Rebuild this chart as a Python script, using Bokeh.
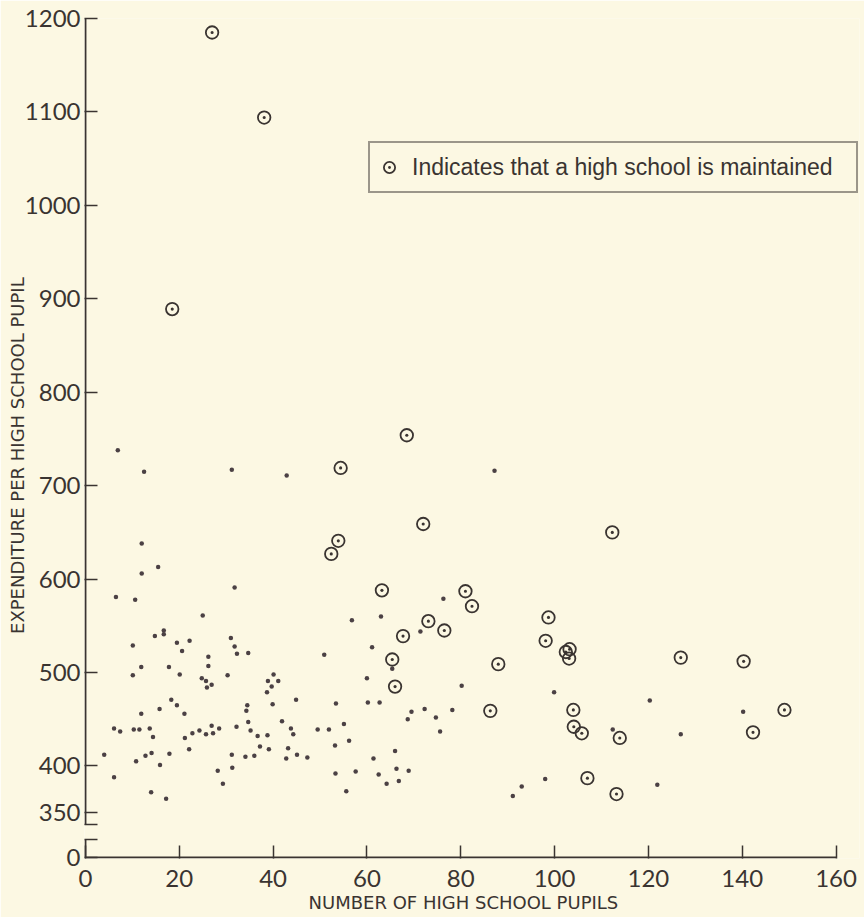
from bokeh.plotting import figure
from bokeh.models import FixedTicker, Legend, LegendItem, Range1d
from bokeh.embed import file_html
from bokeh.resources import INLINE

# ---- data: districts without a high school (plain dots) ----
dot_x = [6.9, 12.5, 31.2, 42.9, 12.0, 15.5, 12.0, 31.8, 6.5, 10.6, 25.0,
         10.1, 14.8, 16.7, 16.7, 19.5, 22.2, 20.6, 11.9, 10.1, 17.8, 20.1,
         26.2, 26.2, 24.8, 25.7, 26.9, 25.9, 31.0, 31.8, 32.3, 34.7, 30.3,
         40.1, 38.9, 41.1, 39.7, 38.7, 39.9, 44.9, 18.3, 19.5, 15.8, 21.1,
         11.9, 34.5, 34.3, 34.7, 32.2, 35.2, 36.7, 38.8, 41.9, 43.8, 44.3,
         43.2, 45.1, 47.3, 42.8, 39.1, 37.2, 36.0, 34.1, 31.2, 31.3, 28.2,
         29.3, 6.1, 7.4, 10.3, 11.5, 13.7, 14.4, 4.0, 6.1, 10.8, 12.8, 14.1,
         15.9, 17.9, 14.0, 17.2, 21.2, 22.1, 22.8, 24.3, 26.9, 25.7, 27.2,
         28.5, 49.5,
         56.8, 63.0, 50.9, 61.1, 71.4, 65.4, 60.0, 80.2, 53.4, 60.2, 62.7,
         69.5, 72.3, 68.7, 74.7, 78.2, 75.6, 55.1, 51.9, 53.2, 56.2, 66.0,
         61.4, 53.3, 57.6, 62.5, 66.3, 68.9, 64.2, 66.8, 55.6, 93.0, 91.1,
         87.2, 76.3,
         99.9, 120.3, 140.2, 112.4, 126.9, 98.0, 121.9]
dot_y = [738, 715, 717, 711, 638, 613, 606, 591, 581, 578, 561,
         529, 539, 545, 541, 532, 534, 523, 506, 497, 506, 498,
         517, 507, 494, 491, 487, 484, 537, 528, 520, 521, 497,
         498, 491, 491, 485, 479, 466, 471, 471, 465, 461, 456,
         456, 465, 459, 447, 442, 438, 432, 433, 448, 440, 434,
         419, 412, 409, 408, 418, 421, 411, 410, 412, 398, 395,
         381, 440, 437, 439, 439, 440, 431, 412, 388, 405, 411, 414,
         401, 413, 372, 365, 430, 418, 435, 438, 443, 434, 435,
         440, 439,
         556, 560, 519, 527, 544, 504, 494, 486, 467, 468, 468,
         458, 461, 450, 452, 460, 437, 445, 439, 422, 427, 416,
         408, 392, 394, 391, 397, 395, 381, 384, 373, 378, 368,
         716, 579,
         479, 470, 458, 439, 434, 386, 380]

# ---- data: districts that maintain a high school (circled dots) ----
hs_x = [27.0, 38.1, 18.5, 68.5, 54.4, 72.0, 53.9, 52.4, 63.2, 81.0, 82.4,
        73.1, 76.5, 67.7, 65.4, 66.0, 88.0, 86.3, 98.7, 98.1, 102.4, 103.2,
        103.1, 126.9, 140.3, 104.0, 104.1, 105.8, 113.9, 142.3, 107.0, 113.2,
        112.3, 149.0]
hs_y = [1185, 1094, 889, 754, 719, 659, 641, 627, 588, 587, 571,
        555, 545, 539, 514, 485, 509, 459, 559, 534, 522, 525,
        515, 516, 512, 460, 442, 435, 430, 436, 387, 370,
        650, 460]

x_ticks = [0, 20, 40, 60, 80, 100, 120, 140, 160]
y_ticks = [350, 400, 500, 600, 700, 800, 900, 1000, 1100, 1200]
Y_ZERO = 302          # where the "0" of the broken axis is drawn
Y_BREAK = (321, 337)  # gap in the vertical axis
Y_TOP = 1200
X_MAX = 160

legend_text = "Indicates that a high school is maintained"
x_title = "NUMBER OF HIGH SCHOOL PUPILS"
y_title = "EXPENDITURE PER HIGH SCHOOL PUPIL"
NB = "\u00a0"

BG = "#FCF8E3"
INK = "#3a3431"
DOT = "#4b4144"
TICK_FONT = "Lato"
TITLE_FONT = "DejaVu Sans"

# frame is a little wider than the axis so the key box fits inside it
p = figure(width=864, height=917, output_backend="svg", toolbar_location=None,
           x_range=Range1d(-0.2, 165), y_range=Range1d(Y_ZERO - 1, Y_TOP),
           min_border_left=84, min_border_right=5, min_border_top=18,
           min_border_bottom=59,
           background_fill_color=BG, border_fill_color=BG,
           outline_line_color=None)
p.grid.visible = False

# axes
xa = p.xaxis[0]
xa.ticker = FixedTicker(ticks=x_ticks)
xa.axis_line_color = None
xa.major_tick_in = 13
xa.major_tick_out = 0
xa.major_tick_line_color = INK
xa.major_tick_line_width = 1.5
xa.minor_tick_line_color = None
xa.major_label_text_font = TICK_FONT
xa.major_label_text_font_size = "24px"
xa.major_label_text_color = INK
xa.major_label_standoff = 11
xa.axis_label = x_title + NB * 3
xa.axis_label_text_font = TITLE_FONT
xa.axis_label_text_font_style = "normal"
xa.axis_label_text_font_size = "18px"
xa.axis_label_text_color = INK
xa.axis_label_standoff = 2

ya = p.yaxis[0]
ya.ticker = FixedTicker(ticks=[Y_ZERO, Y_BREAK[0], Y_BREAK[1]] + y_ticks)
ya.major_label_overrides = {Y_ZERO: "0", Y_BREAK[0]: "", Y_BREAK[1]: ""}
ya.axis_line_color = None
ya.major_tick_in = 13
ya.major_tick_out = 0
ya.major_tick_line_color = INK
ya.major_tick_line_width = 1.5
ya.minor_tick_line_color = None
ya.major_label_text_font = TICK_FONT
ya.major_label_text_font_size = "24px"
ya.major_label_text_color = INK
ya.major_label_standoff = 4
ya.axis_label = y_title + NB * 6
ya.axis_label_text_font = TITLE_FONT
ya.axis_label_text_font_style = "normal"
ya.axis_label_text_font_size = "18px"
ya.axis_label_text_color = INK
ya.axis_label_standoff = -6

# axis lines: broken vertical axis, horizontal axis ending at 160
p.segment(x0=[0, 0, 0], y0=[Y_TOP, Y_BREAK[0], Y_ZERO],
          x1=[0, 0, X_MAX], y1=[Y_BREAK[1], Y_ZERO, Y_ZERO],
          line_color=INK, line_width=2)

# marks
p.scatter(dot_x, dot_y, marker="circle", size=4.5, fill_color=DOT,
          line_color=None)
hs_r = p.scatter(hs_x, hs_y, marker="circle_dot", size=12.5,
                 fill_color=None, line_color=INK, line_width=1.8)

legend = Legend(items=[LegendItem(label=legend_text, renderers=[hs_r])],
                location=(284, 665), padding=5, margin=0,
                glyph_width=28, glyph_height=38, label_height=38,
                label_standoff=9, label_width=439,
                label_text_font="Liberation Sans", label_text_font_size="23px",
                label_text_color=INK, label_text_baseline="middle",
                border_line_color=INK, border_line_width=2,
                background_fill_color=BG, background_fill_alpha=1.0)
p.add_layout(legend)

open("out.html", "w").write(file_html(p, INLINE))
